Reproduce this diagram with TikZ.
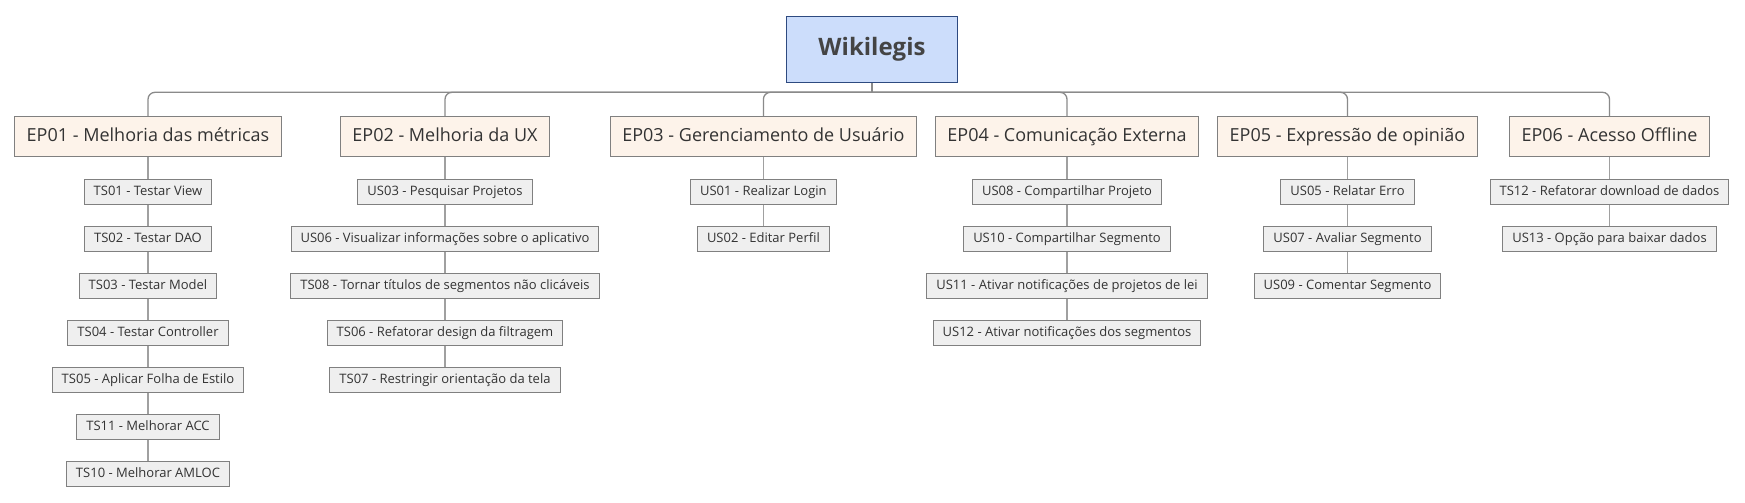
\documentclass[tikz,border=0pt]{standalone}
\usepackage{fontspec}
\setmainfont{Open Sans}
\definecolor{rootfill}{HTML}{CCDDFB}
\definecolor{rootdraw}{HTML}{2E4A80}
\definecolor{epfill}{HTML}{FDF3EA}
\definecolor{boxdraw}{HTML}{808080}
\definecolor{childfill}{HTML}{EFEFEF}
\definecolor{txt}{HTML}{333333}
\definecolor{roottxt}{HTML}{444444}
\definecolor{busline}{HTML}{8A8A8A}
\definecolor{linkline}{HTML}{A0A0A0}
\tikzset{
  rootbox/.style={draw=rootdraw, fill=rootfill, line width=1.2pt, minimum width=171.5pt, minimum height=66pt, inner sep=0pt, font=\fontsize{24}{28}\selectfont\bfseries, text=roottxt, text height=17pt, text depth=5pt},
  epbox/.style={draw=boxdraw, fill=epfill, line width=1pt, minimum height=40.5pt, inner xsep=12pt, inner ysep=0pt, font=\fontsize{18}{22}\selectfont, text=txt, text height=13pt, text depth=4pt},
  childbox/.style={draw=boxdraw, fill=childfill, line width=1pt, minimum height=25pt, inner xsep=9.5pt, inner ysep=0pt, font=\fontsize{13}{16}\selectfont, text=txt, text height=9.5pt, text depth=3pt},
  busconn/.style={draw=busline, line width=1.3pt, rounded corners=7pt},
  childconn/.style={draw=linkline, line width=1.3pt}
}
\begin{document}
\begin{tikzpicture}[x=1pt,y=-1pt]
\useasboundingbox (0,0) rectangle (1745,503);
\coordinate (bj) at (872,92.3);

\node[epbox] (ep1) at (148,136.5) {EP01 - Melhoria das métricas};
\node[epbox] (ep2) at (445,136.5) {EP02 - Melhoria da UX};
\node[epbox] (ep3) at (763.4,136.5) {EP03 - Gerenciamento de Usuário};
\node[epbox] (ep4) at (1067,136.5) {EP04 - Comunicação Externa};
\node[epbox] (ep5) at (1347.5,136.5) {EP05 - Expressão de opinião};
\node[epbox] (ep6) at (1609.5,136.5) {EP06 - Acesso Offline};

\node[rootbox] (root) at (872,49.2) {Wikilegis};
\draw[busconn] (root.south) -- (bj);
\foreach \e in {ep1,ep2,ep3,ep4,ep5,ep6}{
  \draw[busconn] (bj) -- (\e.north |- bj) -- (\e.north);
}

% EP01
\node[childbox] (ts01) at (148,192) {TS01 - Testar View};
\node[childbox] (ts02) at (148,239) {TS02 - Testar DAO};
\node[childbox] (ts03) at (148,286) {TS03 - Testar Model};
\node[childbox] (ts04) at (148,333) {TS04 - Testar Controller};
\node[childbox] (ts05) at (148,380) {TS05 - Aplicar Folha de Estilo};
\node[childbox] (ts11) at (148,427) {TS11 - Melhorar ACC};
\node[childbox] (ts10) at (148,474) {TS10 - Melhorar AMLOC};
% EP02
\node[childbox] (us03) at (445,192) {US03 - Pesquisar Projetos};
\node[childbox] (us06) at (445,239) {US06 - Visualizar informações sobre o aplicativo};
\node[childbox] (ts08) at (445,286) {TS08 - Tornar títulos de segmentos não clicáveis};
\node[childbox] (ts06) at (445,333) {TS06 - Refatorar design da filtragem};
\node[childbox] (ts07) at (445,380) {TS07 - Restringir orientação da tela};
% EP03
\node[childbox] (us01) at (763.4,192) {US01 - Realizar Login};
\node[childbox] (us02) at (763.4,239) {US02 - Editar Perfil};
% EP04
\node[childbox] (us08) at (1067,192) {US08 - Compartilhar Projeto};
\node[childbox] (us10) at (1067,239) {US10 - Compartilhar Segmento};
\node[childbox] (us11) at (1067,286) {US11 - Ativar notificações de projetos de lei};
\node[childbox] (us12) at (1067,333) {US12 - Ativar notificações dos segmentos};
% EP05
\node[childbox] (us05) at (1347.5,192) {US05 - Relatar Erro};
\node[childbox] (us07) at (1347.5,239) {US07 - Avaliar Segmento};
\node[childbox] (us09) at (1347.5,286) {US09 - Comentar Segmento};
% EP06
\node[childbox] (ts12) at (1609.5,192) {TS12 - Refatorar download de dados};
\node[childbox] (us13) at (1609.5,239) {US13 - Opção para baixar dados};

\foreach \a/\b in {ep1/ts01,ts01/ts02,ts02/ts03,ts03/ts04,ts04/ts05,ts05/ts11,ts11/ts10,
  ep2/us03,us03/us06,us06/ts08,ts08/ts06,ts06/ts07,
  ep3/us01,us01/us02,
  ep4/us08,us08/us10,us10/us11,us11/us12,
  ep5/us05,us05/us07,us07/us09,
  ep6/ts12,ts12/us13}{
  \draw[childconn] (\a.south) -- (\b.north);
}
\end{tikzpicture}
\end{document}
